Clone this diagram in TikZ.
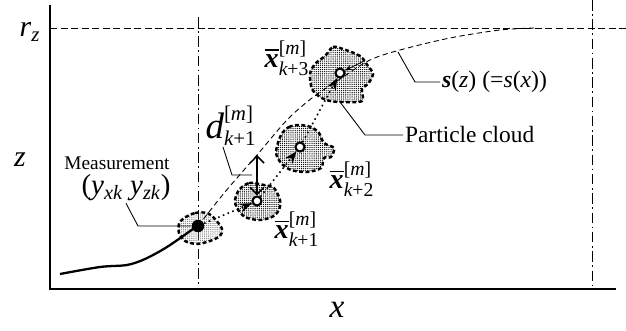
\documentclass[tikz,border=0pt]{standalone}
\usepackage{amsmath}
\usepackage{fontspec}
\setmainfont{Liberation Serif}
\usetikzlibrary{
	arrows.meta,
	patterns.meta
}

\newcommand{\xmean}[1]{$\overline{\text{\bfseries\itshape x}}^{\text{[\itshape m\/\upshape]}}_{\text{\itshape k\upshape +#1}}$}

\begin{document}
\begin{tikzpicture}[
			x=0.02cm, y=-0.02cm,
			>=Stealth,
			axis/.style={line width=0.9pt},
			guide/.style={line width=0.5pt, dash pattern=on 6pt off 2pt on 1pt off 2pt},
			leader/.style={line width=0.5pt},
			cloud/.style={line width=1.4pt, dash pattern=on 2.2pt off 1.4pt, pattern={Dots[distance=1.2pt, radius=0.38pt]}},
			mcloud/.style={cloud, pattern color=black!50},
			particle/.style={circle, draw, line width=1.2pt, fill=white, minimum size=0.18cm, inner sep=0pt},
			meas/.style={circle, fill=black, minimum size=0.25cm, inner sep=0pt},
			move/.style={->, line width=0.9pt, dotted},
			big/.style={font=\fontsize{17}{20}\selectfont, inner sep=1pt}
		]
		\useasboundingbox (0,0) rectangle (626,331);

		% axes and guide lines
		\draw[axis] (50,5) -- (50,289) -- (616,289);
		\draw[line width=0.5pt, dash pattern=on 4pt off 2pt] (50,28) -- (626,28);
		\draw[guide] (198,17) -- (198,289);
		\draw[guide] (592,0) -- (592,289);

		\node[big] (rz) at (30,32) {\textit{r}$_{\text{\itshape z}}$};
		\node[big] (zlab) at (20,160) {\textit{z}};
		\node[big, font=\fontsize{19}{20}\selectfont] (xlab) at (337,310) {\textit{x}};

		% particle clouds
		\draw[mcloud, shift={(198,226)}] plot[smooth cycle] coordinates {(-14,-8) (-3,-13) (9,-13) (17,-7) (24,3) (22,10) (12,15) (-1,18) (-13,15) (-19,7) (-19,-2)};
		\draw[cloud, shift={(257,200)}] plot[smooth cycle] coordinates {(-18,-10) (-8,-17) (7,-15) (17,-12) (23,0) (22,10) (15,17) (2,20) (-12,17) (-20,8) (-22,0)};
		\draw[cloud, shift={(300,146)}] plot[smooth cycle] coordinates {(-19,-11) (-11,-19) (-1,-21) (11,-19) (19,-13) (24,-3) (34,2) (31,11) (24,12) (21,22) (7,26) (-9,24) (-19,17) (-24,6)};
		\draw[cloud, shift={(340,73)}] plot[smooth cycle] coordinates {(-15,-17) (-7,-26) (3,-24) (20,-17) (28,-7) (33,1) (28,11) (22,16) (22,28) (3,29) (-10,28) (-20,24) (-28,16) (-30,1) (-25,-9)};

		% path s(z)
		\draw[line width=0.5pt, dash pattern=on 3pt off 2pt] plot[smooth] coordinates {(198,226) (225,192) (257,155) (287,120) (312,98) (340,79) (370,60) (400,50) (450,38) (500,30) (535,28)};

		% trajectory before the measurement
		\draw[line width=1.3pt] plot[smooth] coordinates {(60,274) (100,267) (127,265) (145,259) (167,247) (193,229)};

		\node[meas] (m) at (198,226) {};
		\node[particle] (p1) at (257,201) {};
		\node[particle] (p2) at (300,147) {};
		\node[particle] (p3) at (340,73) {};

		\draw[move] (m) -- (p1);
		\draw[move] (p1) -- (p2);
		\draw[move] (p2) -- (p3);

		\coordinate (dtop) at (257,155);
		\draw[{Straight Barb[length=4pt]}-{Straight Barb[length=4pt]}, line width=0.9pt] (dtop) -- (p1);
		\coordinate (sp) at (364,61);
		\draw[-{Stealth[length=4pt]}, line width=0.5pt] (sp) -- (p3);

		% labels
		\node[font=\fontsize{11}{12}\selectfont] (mlab) at (117,163) {Measurement};
		\node[font=\fontsize{16.5}{18}\selectfont, inner sep=1pt] (ylab) at (126,188) {(\textit{y}$_{\text{\itshape xk}}$ \textit{y}$_{\text{\itshape zk}}$)};
		\node[big] (dlab) at (231,126) {$\text{\fontsize{21}{21}\selectfont\itshape d}^{\text{[\itshape m\/\upshape]}}_{\text{\itshape k\upshape +1}}$};
		\node[big, font=\fontsize{16}{18}\selectfont] (x3) at (287,58) {\xmean{3}};
		\node[big, font=\fontsize{16}{18}\selectfont] (x2) at (352,179) {\xmean{2}};
		\node[big, font=\fontsize{16}{18}\selectfont] (x1) at (297,229) {\xmean{1}};
		\node[font=\fontsize{13.3}{15}\selectfont, anchor=west, inner sep=1pt] (pclab) at (403,135) {Particle cloud};
		\node[font=\fontsize{13.5}{15}\selectfont, anchor=west, inner sep=1pt] (slab) at (440,82) {\textbf{\textit{s}}(\textit{z}) (=\textit{s}(\textit{x}))};

		% leaders
		\coordinate (c3b) at (340,102);
		\coordinate (sc) at (398,52);
		\coordinate (dfoot) at (252,175);
		\draw[leader] (ylab.south) -- (138,226) -- (m.west);
		\draw[leader] (223,147) -- (232,175) -- (dfoot);
		\draw[leader] (c3b) -- (365,135) -- (pclab.west);
		\draw[leader] (sc) -- (415,82) -- (slab.west);
	\end{tikzpicture}
\end{document}
